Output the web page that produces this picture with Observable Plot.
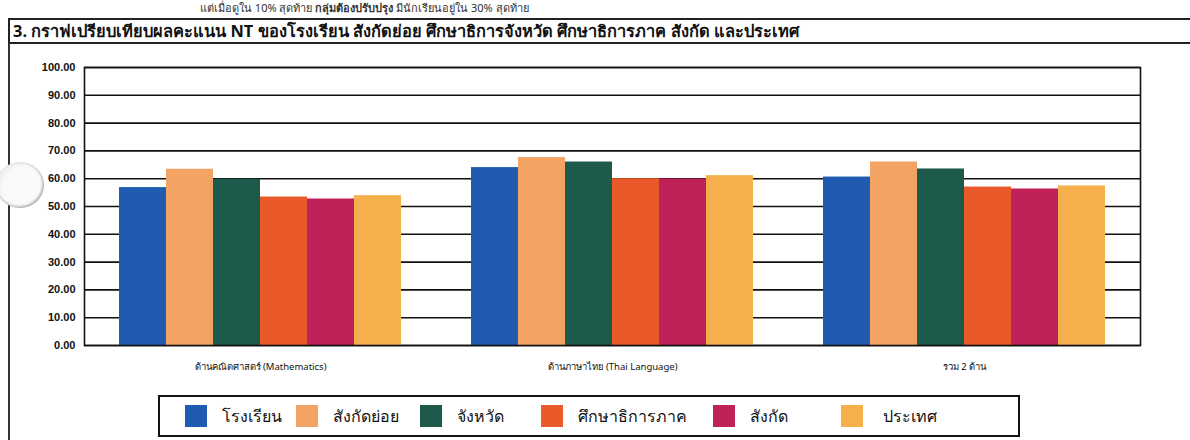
<!DOCTYPE html>
<html><head><meta charset="utf-8">
<script src="https://cdn.jsdelivr.net/npm/d3@7"></script>
<script src="https://cdn.jsdelivr.net/npm/@observablehq/plot@0.6"></script>
<style>
body{margin:0;background:#fff;width:1190px;height:440px;overflow:hidden;font-family:"Noto Sans","DejaVu Sans",sans-serif;color:#111}
#wrap{position:relative;width:1190px;height:440px;overflow:hidden}
#cut{position:absolute;left:200px;top:0px;font-size:11px;line-height:15px;color:#333;white-space:nowrap}
#title{position:absolute;left:8px;top:18px;width:1190px;height:26px;border:2px solid #222;border-right:none;box-sizing:border-box;font-weight:bold;font-size:16.4px;padding-left:3px;line-height:21px;white-space:nowrap}
#frameLeft{position:absolute;left:8px;top:43px;height:397px;border-left:2px solid #333}
#chart{position:absolute;left:0;top:43px}
#hole{position:absolute;left:-4px;top:162px;width:48px;height:46px;border-radius:50%;background:radial-gradient(circle at 60% 60%,#fafafa 55%,#d8d8d8 100%);box-shadow:-1px -1px 3px #999 inset}
#legend{position:absolute;left:158px;top:395px;width:862px;height:42px;border:2px solid #111;box-sizing:border-box;display:flex;align-items:center;padding-left:25px}
.item{display:flex;align-items:center;font-size:16px}
.item:nth-child(1){margin-right:14px}
.item:nth-child(2){margin-right:21px}
.item:nth-child(3){margin-right:37px}
.item:nth-child(4){margin-right:26px}
.item:nth-child(5){margin-right:53px}
.sw{width:22px;height:22px;margin-right:15px}
.item:nth-child(6) .sw{margin-right:20px}
</style></head>
<body><div id="wrap">
<div id="cut">แต่เมื่อดูใน 10% สุดท้าย <b>กลุ่มต้องปรับปรุง</b> มีนักเรียนอยู่ใน 30% สุดท้าย</div>
<div id="title"></div>
<div id="frameLeft"></div>
<div id="chart"></div>
<div id="hole"></div>
<div id="legend"></div>
</div>
<script>
const titleText = "3. กราฟเปรียบเทียบผลคะแนน NT ของโรงเรียน สังกัดย่อย ศึกษาธิการจังหวัด ศึกษาธิการภาค สังกัด และประเทศ";
const categories = ["ด้านคณิตศาสตร์ (Mathematics)", "ด้านภาษาไทย (Thai Language)", "รวม 2 ด้าน"];
const series = ["โรงเรียน", "สังกัดย่อย", "จังหวัด", "ศึกษาธิการภาค", "สังกัด", "ประเทศ"];
const mathValues = [56.8, 63.4, 59.8, 53.4, 52.7, 53.9];
const thaiValues = [64.0, 67.6, 66.0, 60.0, 59.9, 61.1];
const totalValues = [60.6, 66.0, 63.5, 57.0, 56.3, 57.4];
const yTicks = [0, 10, 20, 30, 40, 50, 60, 70, 80, 90, 100];
const colors = ["#1f5bb0", "#f3a363", "#1d5a4c", "#e9592a", "#c02158", "#f5b04c"];

document.getElementById("title").textContent = titleText;

const valueSets = [mathValues, thaiValues, totalValues];
const rows = [];
categories.forEach((c, i) => series.forEach((s, j) => rows.push({category: c, series: s, value: valueSets[i][j]})));

const chart = Plot.plot({
  width: 1190,
  height: 348,
  marginLeft: 83,
  marginRight: 50,
  marginTop: 24,
  marginBottom: 46,
  style: {fontFamily: "'Liberation Sans', Arial, sans-serif", fontSize: "11px", color: "#111", background: "transparent"},
  fx: {domain: categories, padding: 0, label: null},
  x: {domain: series, paddingInner: 0, paddingOuter: 0.74, axis: null},
  y: {domain: [0, 100], label: null},
  color: {domain: series, range: colors},
  marks: [
    Plot.ruleY(yTicks, {stroke: "#111", strokeWidth: 1.6}),
    Plot.barY(rows, {fx: "category", x: "series", y: "value", fill: "series"}),
    Plot.frame({facet: "super", stroke: "#111", strokeWidth: 1.6}),
    Plot.axisY(yTicks, {tickFormat: d => d.toFixed(2), tickSize: 0, tickPadding: 9, fontWeight: "bold", fontSize: 11, label: null}),
    Plot.axisFx({anchor: "bottom", tickSize: 0, tickPadding: 18, fontSize: 9.5, fontFamily: "'Noto Sans', sans-serif", label: null})
  ]
});
document.getElementById("chart").appendChild(chart);

const legend = document.getElementById("legend");
series.forEach((s, i) => {
  const it = document.createElement("div");
  it.className = "item";
  const sw = document.createElement("div");
  sw.className = "sw";
  sw.style.background = colors[i];
  const t = document.createElement("span");
  t.textContent = s;
  it.appendChild(sw); it.appendChild(t);
  legend.appendChild(it);
});
</script>
</body></html>
